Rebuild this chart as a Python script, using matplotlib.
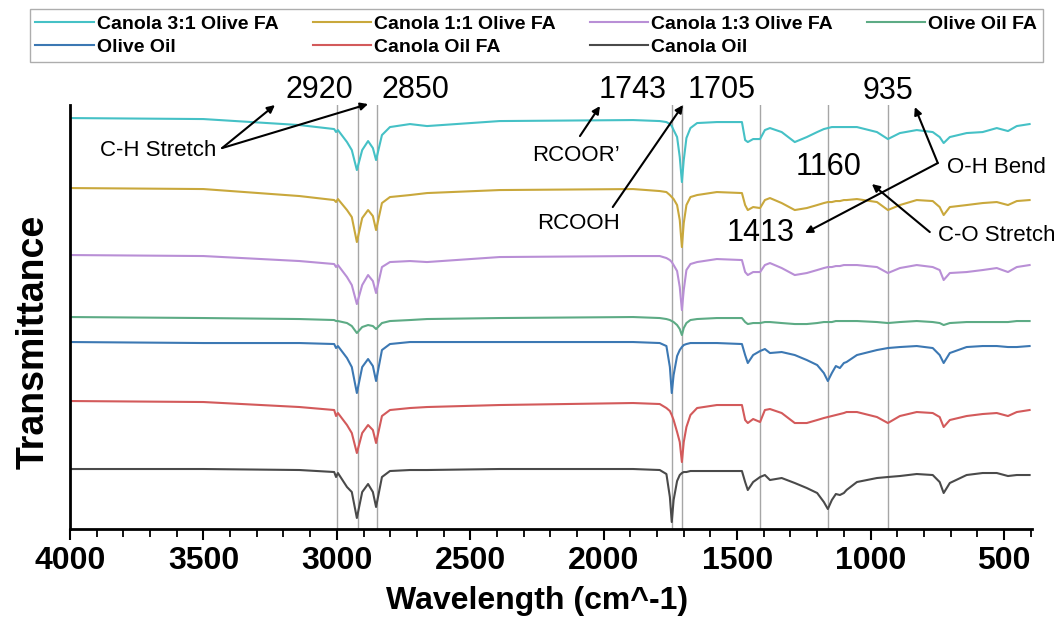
import matplotlib
matplotlib.use("Agg")
import matplotlib.pyplot as plt
from matplotlib.ticker import MultipleLocator

plt.rcParams["font.family"] = ["Liberation Sans", "DejaVu Sans"]

# wavenumber grid (cm^-1) the spectra were read at
WAVENUMBER = [4000, 3500, 3140, 3010, 3003, 2996, 2962, 2944, 2925, 2905,
              2883, 2865, 2853, 2831, 2801, 2726, 2662, 2390, 1890, 1790,
              1765, 1752, 1745, 1738, 1725, 1715, 1707, 1700, 1690, 1675,
              1650, 1576, 1482, 1470, 1460, 1440, 1414, 1396, 1377, 1333,
              1284, 1239, 1200, 1175, 1160, 1145, 1130, 1115, 1100, 1090,
              1051, 976, 935, 890, 827, 767, 741, 726, 703, 640,
              580, 527, 485, 452, 404]

# stacked transmittance (a.u.)
CANOLA_31_OLIVE_FA = [411, 410, 404, 400, 397, 399, 387, 379, 359, 379,
                      388, 381, 369, 394, 402, 405, 403, 408, 409, 408,
                      407, 405, 403, 399, 392, 372, 347, 369, 391, 401,
                      406, 407, 407, 389, 387, 390, 390, 399, 401, 397,
                      387, 392, 397, 400, 401, 402, 402, 402, 402, 402,
                      402, 397, 390, 396, 399, 397, 392, 386, 392, 396,
                      397, 401, 398, 403, 405]
CANOLA_11_OLIVE_FA = [341, 340, 333, 329, 327, 330, 319, 312, 287, 311,
                      319, 313, 299, 326, 332, 334, 336, 339, 340, 338,
                      337, 334, 332, 330, 324, 309, 282, 306, 324, 332,
                      334, 337, 336, 324, 319, 322, 321, 329, 331, 326,
                      319, 321, 324, 326, 327, 327, 328, 328, 329, 329,
                      330, 327, 319, 324, 329, 328, 322, 314, 322, 324,
                      326, 327, 324, 328, 329]
CANOLA_13_OLIVE_FA = [274, 273, 268, 265, 262, 264, 252, 244, 225, 244,
                      254, 248, 236, 262, 267, 268, 267, 272, 273, 273,
                      271, 269, 267, 264, 258, 242, 219, 239, 259, 265,
                      267, 270, 269, 257, 254, 257, 257, 264, 266, 261,
                      254, 256, 259, 261, 262, 262, 263, 263, 264, 264,
                      264, 262, 256, 261, 264, 262, 259, 249, 256, 257,
                      259, 261, 257, 262, 264]
OLIVE_OIL_FA = [212, 211, 210, 209, 208, 208, 206, 203, 196, 202,
                204, 203, 200, 206, 208, 209, 210, 211, 212, 211,
                210, 209, 208, 207, 204, 200, 194, 201, 206, 209,
                210, 211, 211, 207, 205, 206, 206, 207, 207, 206,
                205, 205, 206, 207, 207, 207, 208, 208, 208, 208,
                208, 207, 206, 207, 208, 207, 206, 204, 206, 207,
                207, 207, 207, 208, 208]
OLIVE_OIL = [187, 186, 186, 185, 181, 183, 171, 162, 136, 162,
             170, 163, 148, 179, 185, 187, 187, 187, 187, 186,
             183, 162, 136, 154, 173, 179, 182, 184, 185, 186,
             186, 186, 185, 174, 166, 174, 178, 180, 176, 177,
             174, 169, 164, 156, 148, 156, 163, 161, 166, 167,
             174, 179, 181, 182, 183, 181, 174, 166, 176, 182,
             183, 183, 182, 182, 183]
CANOLA_OIL_FA = [128, 127, 122, 119, 113, 116, 104, 96, 76, 96,
                 104, 99, 86, 113, 119, 121, 122, 124, 126, 125,
                 121, 118, 114, 109, 97, 87, 67, 87, 102, 114,
                 121, 124, 124, 109, 106, 110, 107, 119, 120, 116,
                 106, 106, 109, 111, 112, 113, 114, 115, 116, 117,
                 117, 112, 106, 113, 117, 116, 112, 102, 109, 113,
                 115, 116, 113, 117, 119]
CANOLA_OIL = [60, 60, 59, 57, 52, 56, 42, 37, 11, 37,
              45, 37, 22, 52, 58, 59, 59, 60, 60, 59,
              55, 32, 7, 29, 48, 54, 56, 57, 57, 58,
              58, 58, 58, 47, 39, 47, 52, 54, 49, 51,
              46, 41, 36, 27, 20, 29, 35, 34, 36, 39,
              47, 51, 52, 53, 55, 54, 47, 36, 46, 54,
              56, 56, 53, 54, 54]

LABELS = ["Canola 3:1 Olive FA", "Canola 1:1 Olive FA", "Canola 1:3 Olive FA",
          "Olive Oil FA", "Olive Oil", "Canola Oil FA", "Canola Oil"]
COLORS = ["#45c1c6", "#c9a83c", "#b98fd6", "#5dab85", "#3c78b3", "#d35a5b", "#4a4a4a"]
SPECTRA = [CANOLA_31_OLIVE_FA, CANOLA_11_OLIVE_FA, CANOLA_13_OLIVE_FA,
           OLIVE_OIL_FA, OLIVE_OIL, CANOLA_OIL_FA, CANOLA_OIL]

PEAK_LINES = [3000, 2920, 2850, 1743, 1705, 1413, 1160, 935]

fig = plt.figure(figsize=(10.59, 6.18), dpi=100)
ax = fig.add_axes([0.0661, 0.144, 0.9084, 0.686])

for wn in PEAK_LINES:
    ax.axvline(wn, color="#a6a6a6", lw=1.0, zorder=1)

handles = []
for label, values, color in zip(LABELS, SPECTRA, COLORS):
    h, = ax.plot(WAVENUMBER, values, color=color, lw=1.5, label=label, zorder=2)
    handles.append(h)

ax.set_xlim(4000, 395)
ax.set_ylim(0, 424)
ax.xaxis.set_major_locator(MultipleLocator(500))
ax.xaxis.set_minor_locator(MultipleLocator(100))
ax.tick_params(axis="x", which="major", direction="out", length=8, width=1.5,
               labelsize=23, pad=4)
ax.tick_params(axis="x", which="minor", direction="out", length=6, width=1.3)
for lbl in ax.get_xticklabels():
    lbl.set_fontweight("bold")
ax.set_yticks([])
for side in ("top", "right"):
    ax.spines[side].set_visible(False)
for side in ("left", "bottom"):
    ax.spines[side].set_linewidth(2)

ax.set_xlabel("Wavelength (cm^-1)", fontsize=23, fontweight="bold")
ax.xaxis.set_label_coords(0.485, -0.135)
ax.set_ylabel("Transmittance", fontsize=27, fontweight="bold")
ax.yaxis.set_label_coords(-0.019, 0.441)

# peak numbers and group names
num_kw = dict(fontsize=22, ha="center", va="center", annotation_clip=False)
for txt, x, y in [("2920", 3067, 439), ("2850", 2707, 439), ("1743", 1891, 439),
                  ("1705", 1557, 439), ("935", 935, 438), ("1160", 1156, 362),
                  ("1413", 1411, 296)]:
    ax.annotate(txt, (x, y), **num_kw)

name_kw = dict(fontsize=16, ha="center", va="center", annotation_clip=False)
for txt, x, y in [("C-H Stretch", 3670, 379), ("RCOOR\u2019", 2104, 374),
                  ("RCOOH", 2093, 306), ("O-H Bend", 527, 362),
                  ("C-O Stretch", 527, 294)]:
    ax.annotate(txt, (x, y), **name_kw)

arrow_kw = dict(arrowstyle="-|>", color="black", lw=1.5, mutation_scale=11,
                shrinkA=0, shrinkB=0)
for tail, head in [((3430, 381), (3232, 424)), ((3430, 381), (2883, 425)),
                   ((2089, 393), (2014, 423)), ((1966, 322), (1703, 424)),
                   ((748, 366), (834, 422)), ((748, 366), (1246, 296)),
                   ((778, 297), (995, 345))]:
    ax.annotate("", xy=head, xytext=tail, arrowprops=arrow_kw, annotation_clip=False)

order = [0, 4, 1, 5, 2, 6, 3]
leg = fig.legend([handles[i] for i in order], [LABELS[i] for i in order],
                 loc="upper left", bbox_to_anchor=(0.028, 0.985), ncol=4,
                 prop={"weight": "bold", "size": 14}, frameon=True, fancybox=False,
                 edgecolor="#999999", handlelength=3.0, handletextpad=0.15,
                 columnspacing=1.75, labelspacing=0.3, borderpad=0.3,
                 borderaxespad=0)
leg.get_frame().set_linewidth(1.0)

fig.savefig("out.png", dpi=100)
